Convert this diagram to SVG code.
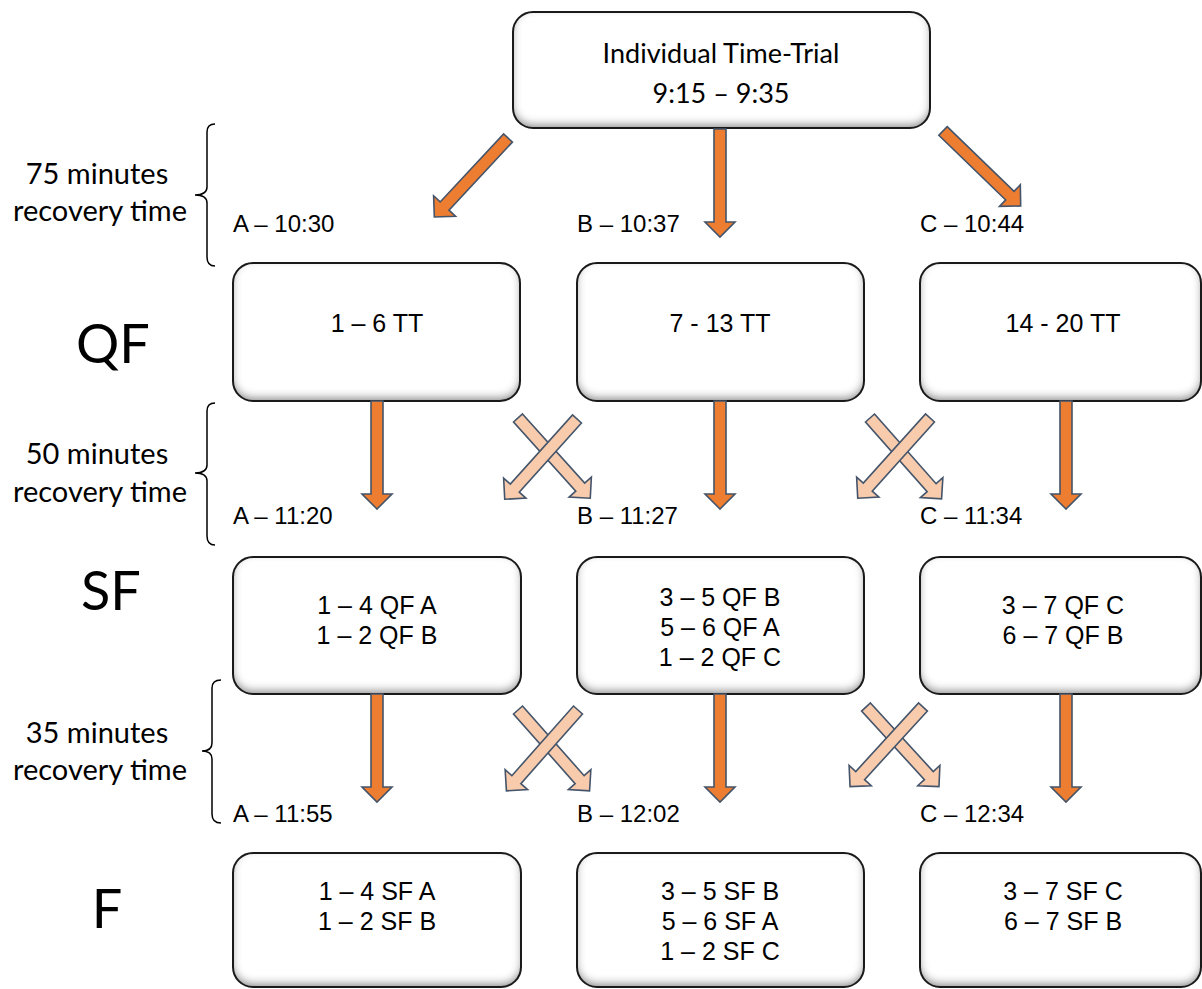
<svg xmlns="http://www.w3.org/2000/svg" width="1202" height="989" viewBox="0 0 1202 989">
<style>
.cal{font-family:Lato,"Open Sans","DejaVu Sans",sans-serif;fill:#000}
.ar{font-family:"Liberation Sans",Arial,sans-serif;fill:#000}
.bx{font-size:25px;text-anchor:middle}
.tm{font-size:24px}
.rec{font-size:29px;text-anchor:middle}
.big{font-size:54px;text-anchor:middle}
.boxfill{fill:#fff;filter:url(#inner)}
.boxline{fill:none;stroke:#1a1a1a;stroke-width:2}
.brace{fill:none;stroke:#000;stroke-width:1.5}
.dark{fill:#ED7D31;stroke:#44546A;stroke-width:1.6;stroke-linejoin:miter}
.light{fill:#F8CBAD;stroke:#44546A;stroke-width:1.6;stroke-linejoin:miter}
</style>
<defs>
<filter id="inner" x="-5%" y="-10%" width="110%" height="120%">
<feFlood flood-color="#000" flood-opacity="0.75"/>
<feComposite in2="SourceAlpha" operator="out"/>
<feGaussianBlur stdDeviation="4"/>
<feOffset dx="0" dy="-4" result="sh"/>
<feComposite in="sh" in2="SourceAlpha" operator="in" result="innerSh"/>
<feMerge><feMergeNode in="SourceGraphic"/><feMergeNode in="innerSh"/></feMerge>
</filter>
<path id="arw" d="M0,-6 H93 V-15 L108,0 L93,15 V6 H0 Z"/>
</defs>
<rect width="1202" height="989" fill="#fff"/>

<g id="node-itt">
<rect class="boxfill" x="513" y="12" width="417" height="116" rx="20"/>
<rect class="boxline" x="513" y="12" width="417" height="116" rx="20"/>
<text class="cal" x="721" y="63" font-size="27" text-anchor="middle">Individual Time-Trial</text>
<text class="cal" x="721" y="103" font-size="27" text-anchor="middle">9:15 – 9:35</text>
</g>

<g id="node-qf-a">
<rect class="boxfill" x="233" y="263" width="287" height="138" rx="20"/>
<rect class="boxline" x="233" y="263" width="287" height="138" rx="20"/>
<text class="ar bx" x="377" y="332">1 – 6 TT</text>
</g>
<g id="node-qf-b">
<rect class="boxfill" x="577" y="263" width="287" height="138" rx="20"/>
<rect class="boxline" x="577" y="263" width="287" height="138" rx="20"/>
<text class="ar bx" x="720" y="332">7 - 13 TT</text>
</g>
<g id="node-qf-c">
<rect class="boxfill" x="920" y="263" width="281" height="138" rx="20"/>
<rect class="boxline" x="920" y="263" width="281" height="138" rx="20"/>
<text class="ar bx" x="1063" y="332">14 - 20 TT</text>
</g>

<g id="node-sf-a">
<rect class="boxfill" x="233" y="557" width="288" height="137" rx="20"/>
<rect class="boxline" x="233" y="557" width="288" height="137" rx="20"/>
<text class="ar bx" x="377" y="614">1 – 4 QF A</text>
<text class="ar bx" x="377" y="644">1 – 2 QF B</text>
</g>
<g id="node-sf-b">
<rect class="boxfill" x="577" y="557" width="287" height="137" rx="20"/>
<rect class="boxline" x="577" y="557" width="287" height="137" rx="20"/>
<text class="ar bx" x="720" y="606">3 – 5 QF B</text>
<text class="ar bx" x="720" y="636">5 – 6 QF A</text>
<text class="ar bx" x="720" y="666">1 – 2 QF C</text>
</g>
<g id="node-sf-c">
<rect class="boxfill" x="920" y="557" width="281" height="137" rx="20"/>
<rect class="boxline" x="920" y="557" width="281" height="137" rx="20"/>
<text class="ar bx" x="1063" y="614">3 – 7 QF C</text>
<text class="ar bx" x="1063" y="644">6 – 7 QF B</text>
</g>

<g id="node-f-a">
<rect class="boxfill" x="233" y="853" width="288" height="134" rx="20"/>
<rect class="boxline" x="233" y="853" width="288" height="134" rx="20"/>
<text class="ar bx" x="377" y="900">1 – 4 SF A</text>
<text class="ar bx" x="377" y="930">1 – 2 SF B</text>
</g>
<g id="node-f-b">
<rect class="boxfill" x="577" y="853" width="287" height="134" rx="20"/>
<rect class="boxline" x="577" y="853" width="287" height="134" rx="20"/>
<text class="ar bx" x="720" y="900">3 – 5 SF B</text>
<text class="ar bx" x="720" y="930">5 – 6 SF A</text>
<text class="ar bx" x="720" y="960">1 – 2 SF C</text>
</g>
<g id="node-f-c">
<rect class="boxfill" x="920" y="853" width="281" height="134" rx="20"/>
<rect class="boxline" x="920" y="853" width="281" height="134" rx="20"/>
<text class="ar bx" x="1063" y="900">3 – 7 SF C</text>
<text class="ar bx" x="1063" y="930">6 – 7 SF B</text>
</g>

<g id="connectors">
<use href="#arw" class="dark" transform="translate(508,138) rotate(133)"/>
<use href="#arw" class="dark" transform="translate(720,129) rotate(90)"/>
<use href="#arw" class="dark" transform="translate(943,131) rotate(44)"/>

<use href="#arw" class="dark" transform="translate(377,401) rotate(90)"/>
<use href="#arw" class="dark" transform="translate(720,401) rotate(90)"/>
<use href="#arw" class="dark" transform="translate(1066,401) rotate(90)"/>
<use href="#arw" class="light" transform="translate(518,418) rotate(48)"/>
<use href="#arw" class="light" transform="translate(577,419) rotate(132)"/>
<use href="#arw" class="light" transform="translate(870,418) rotate(48.5)"/>
<use href="#arw" class="light" transform="translate(930,418) rotate(132)"/>

<use href="#arw" class="dark" transform="translate(377,694) rotate(90)"/>
<use href="#arw" class="dark" transform="translate(720,694) rotate(90)"/>
<use href="#arw" class="dark" transform="translate(1066,694) rotate(90)"/>
<use href="#arw" class="light" transform="translate(518,710) rotate(48.5)"/>
<use href="#arw" class="light" transform="translate(578,710) rotate(131.5)"/>
<use href="#arw" class="light" transform="translate(866,707) rotate(47.5)"/>
<use href="#arw" class="light" transform="translate(923,707) rotate(132.5)"/>
</g>

<g id="time-labels">
<text class="ar tm" x="233" y="232">A – 10:30</text>
<text class="ar tm" x="577" y="232">B – 10:37</text>
<text class="ar tm" x="920" y="232">C – 10:44</text>
<text class="ar tm" x="233" y="524">A – 11:20</text>
<text class="ar tm" x="577" y="524">B – 11:27</text>
<text class="ar tm" x="920" y="524">C – 11:34</text>
<text class="ar tm" x="233" y="822">A – 11:55</text>
<text class="ar tm" x="577" y="822">B – 12:02</text>
<text class="ar tm" x="920" y="822">C – 12:34</text>
</g>

<g id="recovery-braces">
<path class="brace" d="M215,124 Q207,124 207,132 L207,187 Q207,195 195,195 Q207,195 207,203 L207,257 Q207,266 215,266"/>
<path class="brace" d="M215,403 Q207,403 207,411 L207,465 Q207,473 195,473 Q207,473 207,481 L207,536 Q207,545 215,545"/>
<path class="brace" d="M221,680 Q212,680 212,688 L212,743 Q212,751 202,751 Q212,751 212,759 L212,814 Q212,823 221,823"/>
<text class="cal rec" x="97" y="184">75 minutes</text>
<text class="cal rec" x="100" y="221">recovery time</text>
<text class="cal rec" x="97" y="464">50 minutes</text>
<text class="cal rec" x="100" y="502">recovery time</text>
<text class="cal rec" x="97" y="743">35 minutes</text>
<text class="cal rec" x="100" y="780">recovery time</text>
</g>

<g id="stage-labels">
<text class="cal big" x="113" y="363">QF</text>
<text class="cal big" x="111" y="610">SF</text>
<text class="cal big" x="107" y="928">F</text>
</g>
</svg>
